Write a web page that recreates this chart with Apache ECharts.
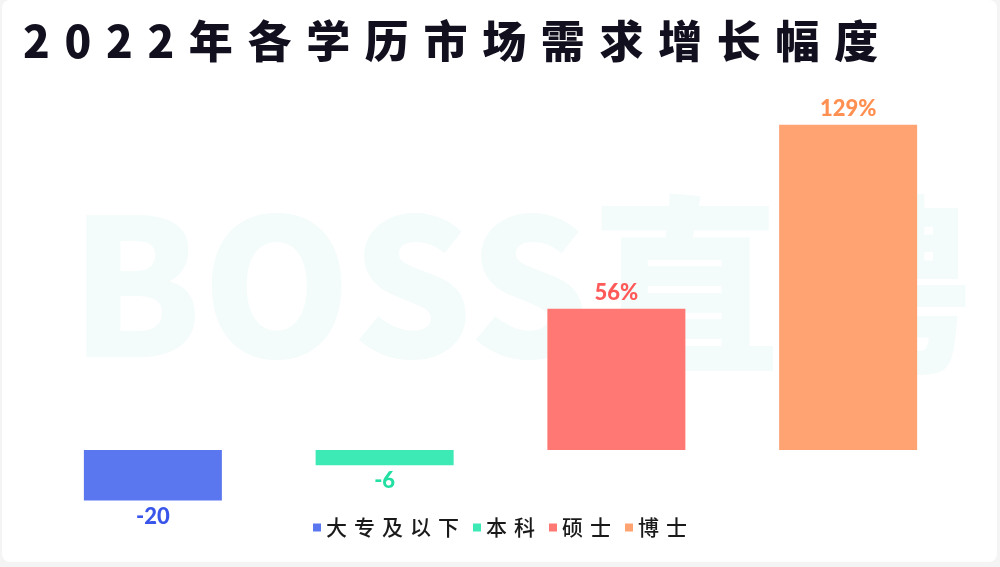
<!DOCTYPE html>
<html><head><meta charset="utf-8">
<script src="https://cdn.jsdelivr.net/npm/echarts@6/dist/echarts.min.js"></script>
<style>html,body{margin:0;padding:0;background:#f4f4f4;}#c{width:1000px;height:567px;}</style>
</head><body><div id="c"></div>
<script>
const categories = ['大专及以下', '本科', '硕士', '博士'];
const values = [-20, -6, 56, 129];
const labelTexts = ['-20', '-6', '56%', '129%'];
const barColors = ['#5b77ef', '#3de9b5', '#ff7873', '#ffa372'];
const labelColors = ['#3a56ea', '#22dfa2', '#ff5a5a', '#ff9052'];
const titleText = '2022年各学历市场需求增长幅度';

const sp = s => s.split('').join('\u2004');
const chart = echarts.init(document.getElementById('c'));
const series = categories.map((name, i) => ({
  name: name,
  type: 'bar',
  stack: 'all',
  barWidth: 138,
  itemStyle: { color: barColors[i] },
  data: categories.map((c, j) => j === i ? values[i] : '-'),
  label: {
    show: true,
    position: values[i] < 0 ? 'bottom' : 'top',
    distance: 5,
    formatter: () => labelTexts[i],
    color: labelColors[i],
    fontSize: 22,
    fontWeight: 900,
    fontFamily: 'Lato'
  }
}));
chart.setOption({
  animation: false,
  graphic: [
    { type: 'rect', z: -10, shape: { x: 2, y: 0, width: 995, height: 562, r: 8 }, style: { fill: '#ffffff' } },
    { type: 'text', z: -5, left: 70, top: 190, style: { text: 'BOSS直聘', fill: '#f3fcfb', font: '900 190px "Noto Sans CJK SC"' } }
  ],
  title: {
    text: sp(titleText),
    left: 18, top: 14,
    textStyle: { fontSize: 44, fontWeight: 900, color: '#12101f', fontFamily: '"Noto Sans CJK SC"' }
  },
  legend: {
    bottom: 24, left: 'center',
    icon: 'rect', itemWidth: 8, itemHeight: 8, itemGap: 14,
    formatter: n => sp(n),
    textStyle: { fontSize: 21, color: '#1a1a1a', fontFamily: '"Noto Sans CJK SC"', fontWeight: 500 },
    data: categories
  },
  grid: { left: 37, right: 36, top: 97, bottom: 16 },
  xAxis: { type: 'category', data: categories, show: false },
  yAxis: { type: 'value', min: -40, max: 140, show: false, splitLine: { show: false } },
  series: series
});
</script></body></html>
